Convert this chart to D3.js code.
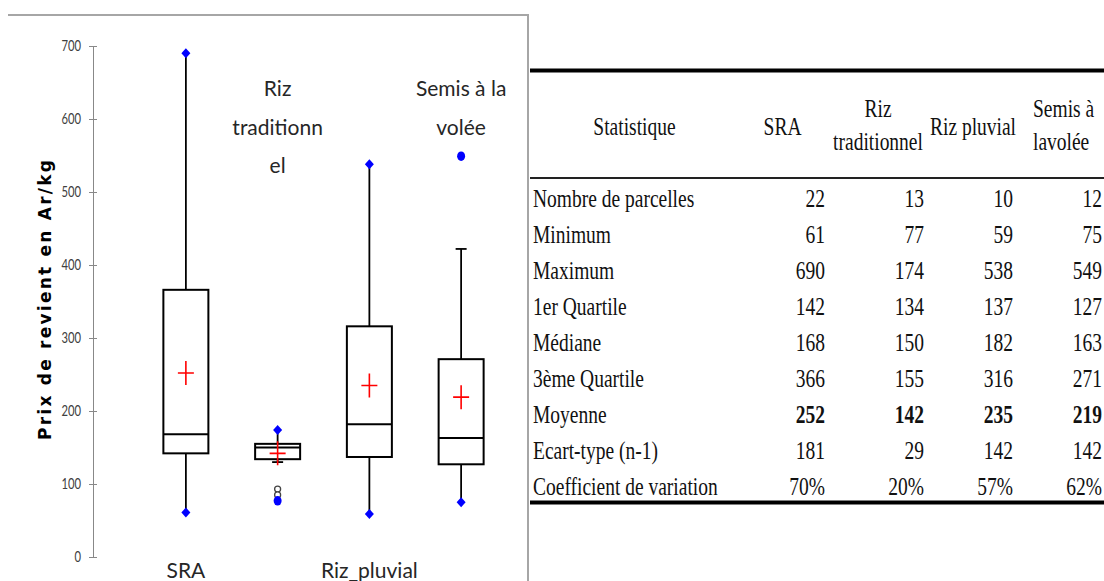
<!DOCTYPE html>
<html>
<head>
  <meta charset="utf-8">
  <script src="https://cdnjs.cloudflare.com/ajax/libs/d3/7.8.5/d3.min.js"></script>
  <style>
    body { margin: 0; background: #fff; }
  </style>
</head>
<body>
<script>
// --- donnees ---
var categories = ["SRA", "Riz traditionnel", "Riz pluvial", "Semis à la volée"];
var nParcelles = [22, 13, 10, 12];
var minimum    = [61, 77, 59, 75];
var maximum    = [690, 174, 538, 549];
var quartile1  = [142, 134, 137, 127];
var mediane    = [168, 150, 182, 163];
var quartile3  = [366, 155, 316, 271];
var moyenne    = [252, 142, 235, 219];
var ecartType  = [181, 29, 142, 142];
var coefVar    = ["70%", "20%", "57%", "62%"];

// bornes des moustaches et points atypiques
var whiskerLow  = [61, 130, 59, 75];
var whiskerHigh = [690, 174, 538, 422];
var outliers    = [[], [93, 85], [], []];
var minIsOutlier = [false, true, false, false];
var maxIsOutlier = [false, false, false, true];

var yTicks = [0, 100, 200, 300, 400, 500, 600, 700];
var boxLabels = [["SRA"], ["Riz", "traditionn", "el"], ["Riz_pluvial"], ["Semis à la", "volée"]];
var labelOnTop = [false, true, false, true];

var headerLabels = [["Statistique"], ["SRA"], ["Riz", "traditionnel"], ["Riz pluvial"], ["Semis à", "lavolée"]];
var rowLabels = ["Nombre de parcelles", "Minimum", "Maximum", "1er Quartile", "Médiane",
                 "3ème Quartile", "Moyenne", "Ecart-type (n-1)", "Coefficient de variation"];

var width = 1104, height = 581;

var svg = d3.select("body").append("svg")
  .attr("width", width)
  .attr("height", height)
  .style("background-color", "#fff");

// cadre du graphique
svg.append("line").attr("x1", 8).attr("x2", 528).attr("y1", 15).attr("y2", 15)
  .style("stroke", "#a6a6a6").style("stroke-width", 2);
svg.append("line").attr("x1", 528).attr("x2", 528).attr("y1", 14).attr("y2", height)
  .style("stroke", "#a6a6a6").style("stroke-width", 2);

var x = d3.scaleBand().domain(categories).range([140, 507]);
var y = d3.scaleLinear().domain([0, 700]).range([557, 46]);
var cx = function(i) { return x(categories[i]) + x.bandwidth() / 2; };
var half = 22.5;

// axe Y
var gy = svg.append("g")
  .attr("transform", "translate(93,0)")
  .call(d3.axisLeft(y).tickValues(yTicks).tickSizeOuter(0).tickSizeInner(4));
gy.select(".domain").style("stroke", "#888");
gy.selectAll(".tick line").attr("x1", -4).attr("x2", 4).style("stroke", "#888");
gy.selectAll(".tick text")
  .attr("x", -16)
  .attr("transform", "scale(0.75,1)")
  .style("font-family", "Lato")
  .style("font-size", "15px")
  .style("fill", "#404040");

svg.append("text")
  .attr("transform", "translate(45,300) rotate(-90)")
  .attr("text-anchor", "middle")
  .attr("dy", "0.36em")
  .attr("textLength", 280)
  .attr("lengthAdjust", "spacing")
  .style("font-family", "DejaVu Sans")
  .style("font-weight", "bold")
  .style("font-size", "17px")
  .text("Prix de revient en Ar/kg");

// boites
var idx = d3.range(categories.length);
var boxes = svg.append("g");

boxes.selectAll(".wlow").data(idx).enter().append("line")
  .attr("x1", cx).attr("x2", cx)
  .attr("y1", function(i) { return y(quartile1[i]); })
  .attr("y2", function(i) { return y(whiskerLow[i]); })
  .style("stroke", "#000").style("stroke-width", 1.8);
boxes.selectAll(".whigh").data(idx).enter().append("line")
  .attr("x1", cx).attr("x2", cx)
  .attr("y1", function(i) { return y(quartile3[i]); })
  .attr("y2", function(i) { return y(whiskerHigh[i]); })
  .style("stroke", "#000").style("stroke-width", 1.8);

// petites barres au bout des moustaches qui ne finissent pas sur min/max
boxes.selectAll(".cap").data(idx.filter(function(i) { return whiskerLow[i] !== minimum[i]; }))
  .enter().append("line")
  .attr("x1", function(i) { return cx(i) - 5.5; }).attr("x2", function(i) { return cx(i) + 5.5; })
  .attr("y1", function(i) { return y(whiskerLow[i]); }).attr("y2", function(i) { return y(whiskerLow[i]); })
  .style("stroke", "#000").style("stroke-width", 1.8);
boxes.selectAll(".cap2").data(idx.filter(function(i) { return whiskerHigh[i] !== maximum[i]; }))
  .enter().append("line")
  .attr("x1", function(i) { return cx(i) - 5.5; }).attr("x2", function(i) { return cx(i) + 5.5; })
  .attr("y1", function(i) { return y(whiskerHigh[i]); }).attr("y2", function(i) { return y(whiskerHigh[i]); })
  .style("stroke", "#000").style("stroke-width", 1.8);

boxes.selectAll("rect").data(idx).enter().append("rect")
  .attr("x", function(i) { return cx(i) - half; })
  .attr("width", half * 2)
  .attr("y", function(i) { return y(quartile3[i]); })
  .attr("height", function(i) { return y(quartile1[i]) - y(quartile3[i]); })
  .style("fill", "#fff").style("stroke", "#000").style("stroke-width", 2);

boxes.selectAll(".med").data(idx).enter().append("line")
  .attr("x1", function(i) { return cx(i) - half; }).attr("x2", function(i) { return cx(i) + half; })
  .attr("y1", function(i) { return y(mediane[i]); }).attr("y2", function(i) { return y(mediane[i]); })
  .style("stroke", "#000").style("stroke-width", 2);

// moyenne : croix rouge
boxes.selectAll(".mean").data(idx).enter().append("path")
  .attr("d", function(i) {
    var px = cx(i), py = y(moyenne[i]);
    return "M" + (px - 8) + "," + py + "H" + (px + 8) + "M" + px + "," + (py - 12) + "V" + (py + 12);
  })
  .style("stroke", "#ff0000").style("stroke-width", 1.6).style("fill", "none");

// points atypiques
idx.forEach(function(i) {
  boxes.selectAll(".out" + i).data(outliers[i]).enter().append("circle")
    .attr("cx", cx(i)).attr("cy", function(d) { return y(d); })
    .attr("r", 3)
    .style("fill", "#fff").style("stroke", "#444").style("stroke-width", 1.3);
});

// minimum et maximum en bleu
function blueMark(i, v, isOut) {
  if (isOut) {
    boxes.append("ellipse").attr("cx", cx(i)).attr("cy", y(v)).attr("rx", 4).attr("ry", 4.8)
      .style("fill", "#0000ff");
  } else {
    boxes.append("path")
      .attr("transform", "translate(" + cx(i) + "," + y(v) + ")")
      .attr("d", "M0,-5L4.5,0L0,5L-4.5,0Z")
      .style("fill", "#0000ff");
  }
}
idx.forEach(function(i) {
  blueMark(i, minimum[i], minIsOutlier[i]);
  blueMark(i, maximum[i], maxIsOutlier[i]);
});

// etiquettes des boites
idx.forEach(function(i) {
  boxLabels[i].forEach(function(t, k) {
    svg.append("text")
      .attr("x", cx(i))
      .attr("y", labelOnTop[i] ? 96 + k * 38.5 : 578)
      .attr("text-anchor", "middle")
      .style("font-family", "Lato")
      .style("font-size", "21px")
      .style("fill", "#262626")
      .text(t);
  });
});

// --- tableau ---
var tab = svg.append("g");
tab.append("line").attr("x1", 530).attr("x2", width).attr("y1", 70.5).attr("y2", 70.5)
  .style("stroke", "#000").style("stroke-width", 4);
tab.append("line").attr("x1", 530).attr("x2", width).attr("y1", 178).attr("y2", 178)
  .style("stroke", "#222").style("stroke-width", 2);
tab.append("line").attr("x1", 530).attr("x2", width).attr("y1", 502.5).attr("y2", 502.5)
  .style("stroke", "#000").style("stroke-width", 4);

var sx = 0.78;
function serif(g, tx, ty, anchor, txt, bold) {
  g.append("text")
    .attr("transform", "translate(" + tx + "," + ty + ") scale(" + sx + ",1)")
    .attr("text-anchor", anchor)
    .style("font-family", "Liberation Serif")
    .style("font-size", "25px")
    .style("font-weight", bold ? "bold" : "normal")
    .style("fill", "#111")
    .text(txt);
}

var headX = [634.5, 782.5, 878, 973, 1033];
var headAnchor = ["middle", "middle", "middle", "middle", "start"];
headerLabels.forEach(function(lines, j) {
  lines.forEach(function(t, k) {
    var ty = lines.length === 1 ? 135 : 117 + k * 33;
    serif(tab, headX[j], ty, headAnchor[j], t, false);
  });
});

var row = d3.scalePoint().domain(rowLabels).range([207, 495]);
var colRight = [825, 924, 1013, 1102];
var rows = [nParcelles, minimum, maximum, quartile1, mediane, quartile3, moyenne, ecartType, coefVar];

rowLabels.forEach(function(r, k) {
  serif(tab, 533, row(r), "start", r, false);
  rows[k].forEach(function(v, j) {
    serif(tab, colRight[j], row(r), "end", v, r === "Moyenne");
  });
});
</script>
</body>
</html>
